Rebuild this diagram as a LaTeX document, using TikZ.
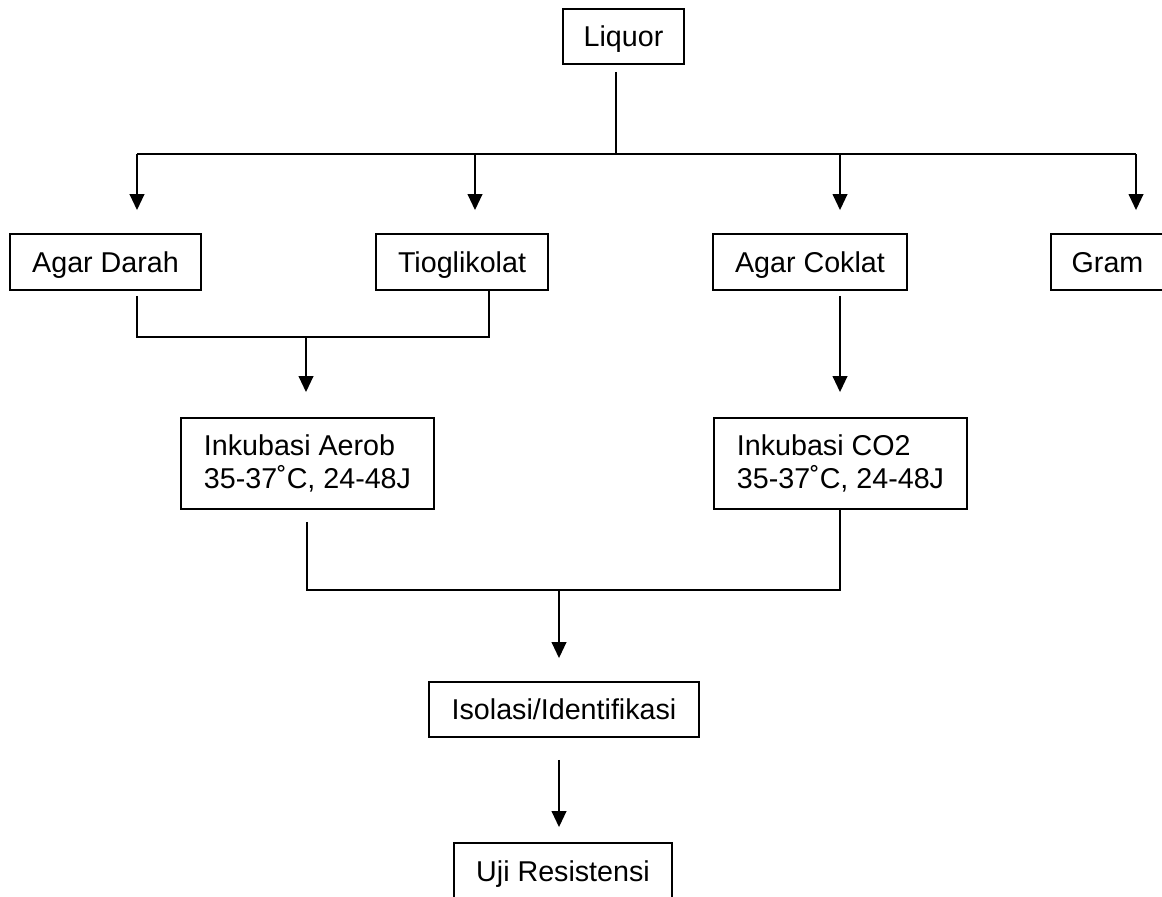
\documentclass[tikz,border=0pt]{standalone}
\usepackage{fontspec}
\setmainfont{Liberation Sans}
\usetikzlibrary{arrows.meta}
\begin{document}
\begin{tikzpicture}[x=0.75pt,y=-0.75pt,
  box/.style={draw=black,line width=1.4pt,inner sep=0pt,font=\fontsize{21.5}{25}\selectfont,align=left},
  onebox/.style={box,text height=15.4pt,text depth=0pt},
  conn/.style={draw=black,line width=1.4pt},
  arr/.style={conn,-{Triangle[width=11pt,length=12pt]}}]
\clip (0,0) rectangle (1162,896);
\fill[white] (0,0) rectangle (1162,896);
% boxes
\node[onebox,minimum width=90.75pt,minimum height=41.25pt] (liquor) at (623.5,36.5) {Liquor};
\node[onebox,minimum width=143.25pt,minimum height=42pt] (darah) at (105.5,262) {Agar Darah};
\node[onebox,minimum width=129pt,minimum height=42pt] (tio) at (462,262) {Tioglikolat};
\node[onebox,minimum width=145.5pt,minimum height=42pt] (coklat) at (810,262) {Agar Coklat};
\node[onebox,minimum width=84.75pt,minimum height=42pt] (gram) at (1107.5,262) {Gram};
\node[box,minimum width=189.75pt,minimum height=68.25pt] (aerob) at (307.5,463.5) {Inkubasi Aerob\\35-37˚C, 24-48J};
\node[box,minimum width=189.75pt,minimum height=68.25pt] (co2) at (840.5,463.5) {Inkubasi CO2\\35-37˚C, 24-48J};
\node[onebox,minimum width=202.5pt,minimum height=41.25pt] (iso) at (564,709.5) {Isolasi/Identifikasi};
\node[onebox,minimum width=163.5pt,minimum height=42pt] (uji) at (563,871) {Uji Resistensi};
% junction coordinates
\coordinate (bus) at (616,154);
\coordinate (b1) at (137,154);
\coordinate (b2) at (475,154);
\coordinate (b3) at (840,154);
\coordinate (b4) at (1136,154);
\coordinate (m1) at (137,337);
\coordinate (m2) at (489,337);
\coordinate (m3) at (306,337);
\coordinate (n1) at (307,590);
\coordinate (n2) at (840,590);
\coordinate (n3) at (559,590);
% Liquor to bus
\draw[conn,shorten <=5.25pt] (liquor.south -| bus) -- (bus);
\draw[conn] (b1) -- (b4);
\draw[arr,shorten >=17.25pt] (b1) -- (b1 |- darah.north);
\draw[arr,shorten >=17.25pt] (b2) -- (b2 |- tio.north);
\draw[arr,shorten >=17.25pt] (b3) -- (b3 |- coklat.north);
\draw[arr,shorten >=17.25pt] (b4) -- (b4 |- gram.north);
% Agar Darah + Tioglikolat to Aerob
\draw[conn,shorten <=3.75pt] (darah.south -| m1) -- (m1) -- (m2) -- (tio.south -| m2);
\draw[arr,shorten >=18.75pt] (m3) -- (m3 |- aerob.north);
% Agar Coklat to CO2
\draw[arr,shorten <=3.75pt,shorten >=18.75pt] (coklat.south -| b3) -- (b3 |- co2.north);
% Aerob + CO2 to Isolasi
\draw[conn,shorten <=9pt] (aerob.south -| n1) -- (n1) -- (n2) -- (co2.south -| n2);
\draw[arr,shorten >=17.25pt] (n3) -- (n3 |- iso.north);
% Isolasi to Uji
\draw[arr,shorten <=16.5pt,shorten >=11.25pt] (iso.south -| n3) -- (n3 |- uji.north);
\end{tikzpicture}
\end{document}
